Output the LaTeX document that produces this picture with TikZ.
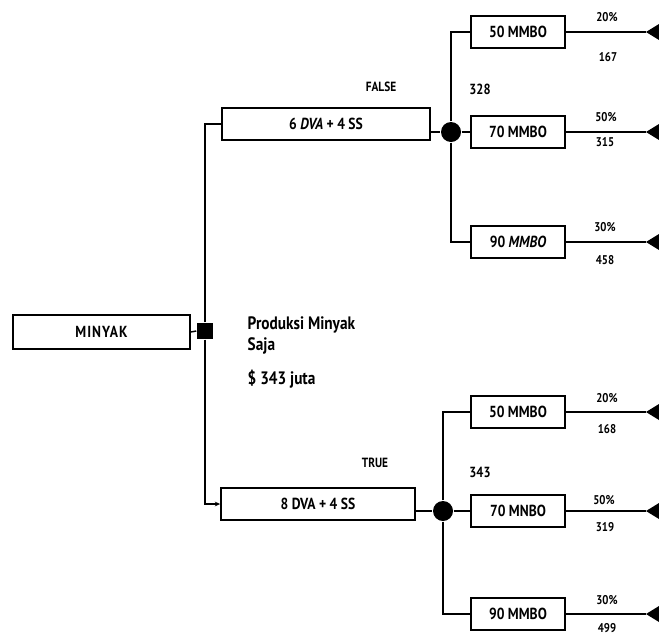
\documentclass[tikz,border=0pt]{standalone}
\usepackage{fontspec}
\setmainfont[FakeStretch=0.85]{PT Sans}
\usetikzlibrary{arrows.meta}
\begin{document}
\begin{tikzpicture}[x=0.75pt,y=-0.75pt,
  line width=1.1pt,
  box/.style={draw,line width=1.3pt,inner sep=0pt,minimum height=24pt,font=\bfseries\fontsize{12}{14}\selectfont},
  mbox/.style={box,minimum width=70.5pt},
  lbl/.style={inner sep=0pt,font=\bfseries\fontsize{9.5}{11}\selectfont},
  big/.style={inner sep=0pt,anchor=west,font=\bfseries\fontsize{13.5}{15}\selectfont},
  chance/.style={circle,fill=black,inner sep=0pt,minimum size=15pt},
  decision/.style={rectangle,fill=black,inner sep=0pt,minimum size=12pt}]
\useasboundingbox (0,0) rectangle (659,636);
% root
\node[box,minimum width=132.75pt,minimum height=25.5pt,font=\bfseries\fontsize{12}{14}\selectfont\addfontfeature{LetterSpace=6}] (minyak) at (101.5,332) {MINYAK};
\node[decision] (dec) at (205,331) {};
\node[big] (prod) at (247,325) {Produksi Minyak};
\node[big] (saja) at (247,346) {Saja};
\node[big] (val) at (247,379) {\$ 343 juta};
% branches
\node[box,minimum width=156pt] (dva1) at (326,124) {6 \textit{DVA} + 4 SS};
\node[box,minimum width=145.5pt] (dva2) at (318,504) {8 DVA + 4 SS};
\node[lbl,font=\bfseries\fontsize{10}{12}\selectfont] (false) at (381,87) {FALSE};
\node[lbl,font=\bfseries\fontsize{10}{12}\selectfont] (true) at (375,463) {TRUE};
\node[chance] (c1) at (451,132) {};
\node[chance] (c2) at (443,511) {};
\node[lbl,font=\bfseries\fontsize{11}{12}\selectfont] (v1) at (480,89) {328};
\node[lbl,font=\bfseries\fontsize{11}{12}\selectfont] (v2) at (480,472) {343};
% outcome boxes top
\node[mbox] (m1a) at (518,32) {50 MMBO};
\node[mbox] (m1b) at (518,132) {70 MMBO};
\node[mbox] (m1c) at (518,242) {90 \textit{MMBO}};
% outcome boxes bottom
\node[mbox] (m2a) at (518,412) {50 MMBO};
\node[mbox] (m2b) at (518,511) {70 MNBO};
\node[mbox] (m2c) at (518,614) {90 MMBO};
% end coordinates
\coordinate (t1a) at (646,32);
\coordinate (t1b) at (646,132);
\coordinate (t1c) at (646,242);
\coordinate (t2a) at (646,412);
\coordinate (t2b) at (646,511);
\coordinate (t2c) at (646,614);
% labels
\node[lbl] (p1a) at (607,17) {20\%};
\node[lbl] (n1a) at (608,57) {167};
\node[lbl] (p1b) at (606,117) {50\%};
\node[lbl] (n1b) at (605,142) {315};
\node[lbl] (p1c) at (605,227) {30\%};
\node[lbl] (n1c) at (605,260) {458};
\node[lbl] (p2a) at (607,398) {20\%};
\node[lbl] (n2a) at (607,429) {168};
\node[lbl] (p2b) at (604,500) {50\%};
\node[lbl] (n2b) at (605,527) {319};
\node[lbl] (p2c) at (607,600) {30\%};
\node[lbl] (n2c) at (607,628) {499};
% connectors
\draw (minyak.east) -- (dec.west);
\draw (dec.north) |- (dva1.west);
\draw[-{Stealth[length=4pt,width=3.5pt]}] (dec.south) |- (dva2.west);
\draw (dva1.east |- c1) -- (c1);
\draw (dva2.east |- c2) -- (c2);
\draw (c1) |- (m1a.west);
\draw (c1) -- (m1b.west);
\draw (c1) |- (m1c.west);
\draw (c2) |- (m2a.west);
\draw (c2) -- (m2b.west);
\draw (c2) |- (m2c.west);
\foreach \m/\t in {m1a/t1a,m1b/t1b,m1c/t1c,m2a/t2a,m2b/t2b,m2c/t2c}{
  \draw (\m.east) -- (\t);
  \fill (\t) -- ++(13,-8) -- ++(0,16) -- cycle;
}
\end{tikzpicture}
\end{document}
